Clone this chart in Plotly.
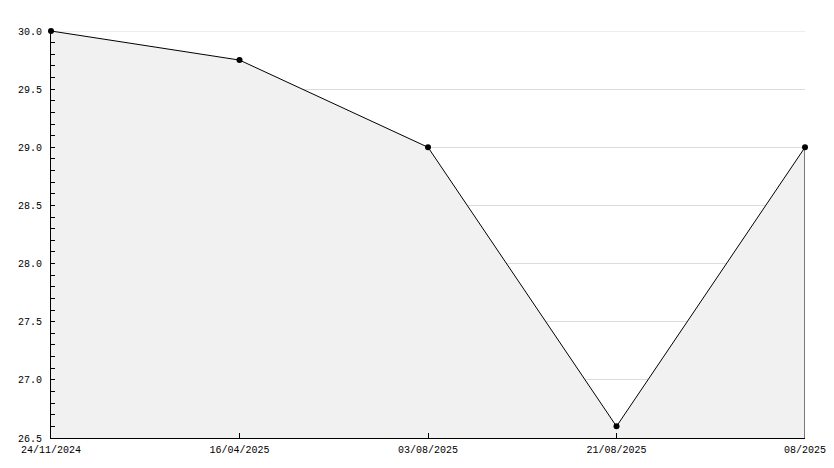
import plotly.graph_objects as go

dates = ["24/11/2024", "16/04/2025", "03/08/2025", "21/08/2025", "08/2025"]
values = [30.0, 29.75, 29.0, 26.6, 29.0]
y_min, y_max = 26.5, 30.0

idx = list(range(len(dates)))
font = dict(family="Liberation Mono", size=10, color="#000000")

fig = go.Figure()
fig.add_trace(go.Scatter(
    x=idx, y=values, mode="lines+markers",
    line=dict(color="#000000", width=1),
    marker=dict(color="#000000", size=6, symbol="circle"),
    fill="tozeroy", fillcolor="#f1f1f1",
    cliponaxis=False,
    hoverinfo="skip", showlegend=False,
))
# closing edge at the right end of the filled area
fig.add_trace(go.Scatter(
    x=[idx[-1], idx[-1]], y=[values[-1], y_min], mode="lines",
    line=dict(color="#000000", width=1),
    hoverinfo="skip", showlegend=False,
))

# top gridline (Plotly hides the one lying on the plot edge)
fig.add_shape(type="line", xref="paper", x0=0, x1=1, yref="y", y0=y_max, y1=y_max,
              line=dict(color="#dcdcdc", width=1), layer="below")

# the page body has an 8px margin, so the figure is sized to fit the window
fig.update_layout(
    width=826, height=460,
    margin=dict(l=43, r=29, t=23, b=30),
    paper_bgcolor="#ffffff", plot_bgcolor="#ffffff",
    font=font,
    xaxis=dict(
        range=[0, len(dates) - 1], tickmode="array", tickvals=idx, ticktext=dates,
        showgrid=False, zeroline=False, showline=True, linecolor="#000000", linewidth=1,
        ticks="inside", ticklen=5, tickcolor="#000000", tickfont=font,
        ticklabelstandoff=2, automargin=False,
    ),
    yaxis=dict(
        range=[y_min, y_max], dtick=0.5, tick0=y_min, tickformat=".1f",
        showgrid=True, gridcolor="#dcdcdc", gridwidth=1, zeroline=False,
        showline=True, linecolor="#000000", linewidth=1,
        ticks="inside", ticklen=4, tickcolor="#000000", tickfont=font,
        ticklabelstandoff=6, automargin=False,
        minor=dict(dtick=0.1, tick0=y_min, ticks="inside", ticklen=4,
                   tickcolor="#000000", showgrid=False),
    ),
)

fig.write_html("out.html")
